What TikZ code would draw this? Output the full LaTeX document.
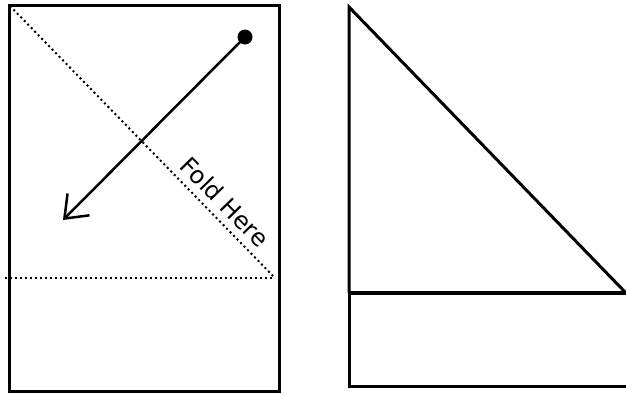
\documentclass[tikz,border=0pt]{standalone}
\usepackage{fontspec}
\setmainfont{DejaVu Sans}
\usetikzlibrary{arrows.meta}
\begin{document}
\begin{tikzpicture}[x=1pt,y=-1pt,
  edge/.style={line width=3pt},
  foldline/.style={line width=2pt, dash pattern=on 2pt off 3pt},
  arrowline/.style={line width=2.5pt, -{Straight Barb[length=20pt,width=31pt,line width=2.5pt]}},
  lbl/.style={font=\fontsize{24}{24}\selectfont, inner sep=0pt}]
\useasboundingbox (0,0) rectangle (626,394);
% left sheet
\node[draw, edge, minimum width=270pt, minimum height=386pt, inner sep=0pt, anchor=north west] (sheet) at (8,4) {};
\coordinate (d1) at (10,6);
\coordinate (d2) at (275,278);
\coordinate (h1) at (5,278);
\draw[foldline] (d1) -- (d2);
\draw[foldline] (h1) -- (d2);
\node[circle, fill=black, minimum size=15pt, inner sep=0pt] (dot) at (245,37) {};
\coordinate (tip) at (63,220);
\draw[arrowline] (dot.center) -- (tip);
\node[lbl, rotate=-45.7] (fold) at (225,202) {Fold Here};
% right folded sheet
\coordinate (t) at (349,7);
\coordinate (r) at (626,293);
\coordinate (l) at (349,293);
\coordinate (bl) at (349,386);
\coordinate (br) at (626,386);
\draw[edge] (l) -- (t) -- (r);
\draw[line width=4pt] (l) -- (r);
\draw[edge] (l) -- (bl) -- (br);
\draw[line width=1pt, gray!40] (r) -- (br);
\end{tikzpicture}
\end{document}
